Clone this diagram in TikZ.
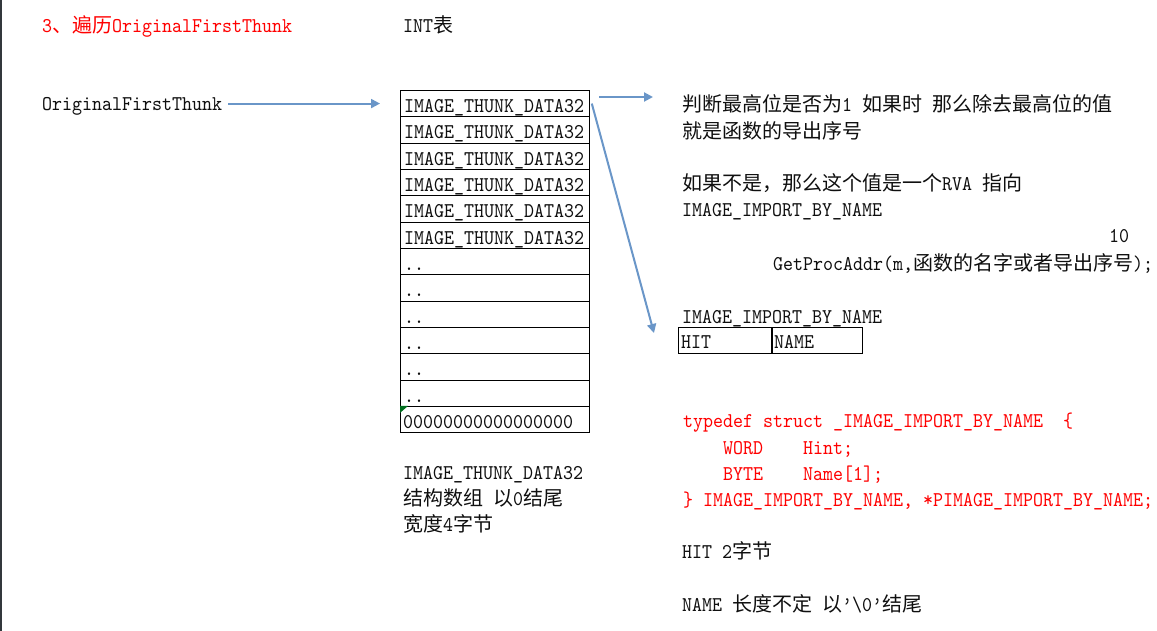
\documentclass[tikz,border=0pt]{standalone}
\usepackage{fontspec}
\setmainfont{lmmono10-regular.otf}[FakeStretch=0.907]
\newfontfamily\cjk{Noto Sans CJK SC}[Scale=0.9524]
\usetikzlibrary{arrows.meta,calc}
\definecolor{arrblue}{RGB}{106,150,200}
\definecolor{codered}{RGB}{255,0,0}
\definecolor{txt}{RGB}{15,15,15}
\definecolor{edge}{RGB}{50,56,60}
\definecolor{flag}{RGB}{0,110,30}
\begin{document}
\begin{tikzpicture}[x=1pt,y=-1pt,
  every node/.style={font=\fontsize{21}{26}\selectfont, inner sep=0pt, text=txt},
  lbl/.style={anchor=base west},
  codetxt/.style={anchor=base west, text=codered},
  cell/.style={draw=black, line width=0.8pt, minimum width=189pt, minimum height=26.33pt, anchor=north west},
  arr/.style={draw=arrblue, line width=2pt, -{Triangle[length=9pt,width=9pt]}}
]
\useasboundingbox (0,0) rectangle (1157,631);
\fill[white] (0,0) rectangle (1157,631);
\draw[line width=1.5pt, draw=edge] (0.75,0) -- (0.75,631);

% titles
\node[codetxt] (title) at (42,33) {3{\cjk 、遍历}OriginalFirstThunk};
\node[lbl] (int) at (403,33) {INT{\cjk 表}};
\node[lbl] (oft) at (42,111) {OriginalFirstThunk};

% INT table
\foreach \i in {1,...,13}
  \node[cell] (r\i) at (400,{90+(\i-1)*26.33}) {};
\foreach \i in {1,...,6}
  \node[lbl] (t\i) at ($(r\i.south west)+(4,-4.7)$) {IMAGE\_THUNK\_DATA32};
\foreach \i in {7,...,12}
  \node[lbl] (t\i) at ($(r\i.south west)+(4,-4.5)$) {..};
\node[lbl] (t13) at ($(r13.south west)+(3,-4.7)$) {00000000000000000};
\fill[flag] (r13.north west) -- ++(8,0) -- ++(-8,7) -- cycle;

% arrows
\draw[arr] ($(oft.east |- r1.west)+(6,0)$) -- ($(r1.west)+(-20,0)$);
\coordinate (a1s) at (599,97);
\coordinate (a1e) at (653,97);
\draw[arr] (a1s) -- (a1e);
\coordinate (a2e) at (654,333);
\draw[arr] ($(r1.east)+(2,0)$) -- (a2e);

% left bottom notes
\node[lbl] (n1) at (403,479) {IMAGE\_THUNK\_DATA32};
\node[lbl] (n2) at (403,505) {{\cjk 结构数组} {\cjk 以}0{\cjk 结尾}};
\node[lbl] (n3) at (403,531) {{\cjk 宽度}4{\cjk 字节}};

% right notes
\node[lbl] (j1) at (682,112) {{\cjk 判断最高位是否为}1 {\cjk 如果时} {\cjk 那么除去最高位的值}};
\node[lbl] (j2) at (682,138.5) {{\cjk 就是函数的导出序号}};
\node[lbl] (j3) at (682,191) {{\cjk 如果不是，那么这个值是一个}RVA {\cjk 指向}};
\node[lbl] (j4) at (682,217) {IMAGE\_IMPORT\_BY\_NAME};
\node[lbl] (ten) at (1109,243) {10};
\node[lbl] (gpa) at (773,270) {GetProcAddr(m,{\cjk 函数的名字或者导出序号});};
\node[lbl] (ibn) at (682,323) {IMAGE\_IMPORT\_BY\_NAME};

% HIT | NAME box
\node[draw=black, line width=0.8pt, minimum width=93pt, minimum height=26pt, anchor=north west] (hit) at (678,327) {};
\node[draw=black, line width=0.8pt, minimum width=90pt, minimum height=26pt, anchor=north west] (nm) at (hit.north east) {};
\node[lbl] at ($(hit.south west)+(3,-5)$) {HIT};
\node[lbl] at ($(nm.south west)+(2,-5)$) {NAME};

% code
\node[codetxt] (c1) at (683,427) {typedef struct \_IMAGE\_IMPORT\_BY\_NAME\ \ \{};
\node[codetxt] (c2) at (723,454) {WORD\ \ \ \ Hint;};
\node[codetxt] (c3) at (723,480) {BYTE\ \ \ \ Name[1];};
\node[codetxt] (c4) at (683,506) {\} IMAGE\_IMPORT\_BY\_NAME, *PIMAGE\_IMPORT\_BY\_NAME;};

\node[lbl] (h2) at (682,558) {HIT 2{\cjk 字节}};
\node[lbl] (nl) at (682,611) {NAME {\cjk 长度不定} {\cjk 以}'\textbackslash 0'{\cjk 结尾}};
\end{tikzpicture}
\end{document}
